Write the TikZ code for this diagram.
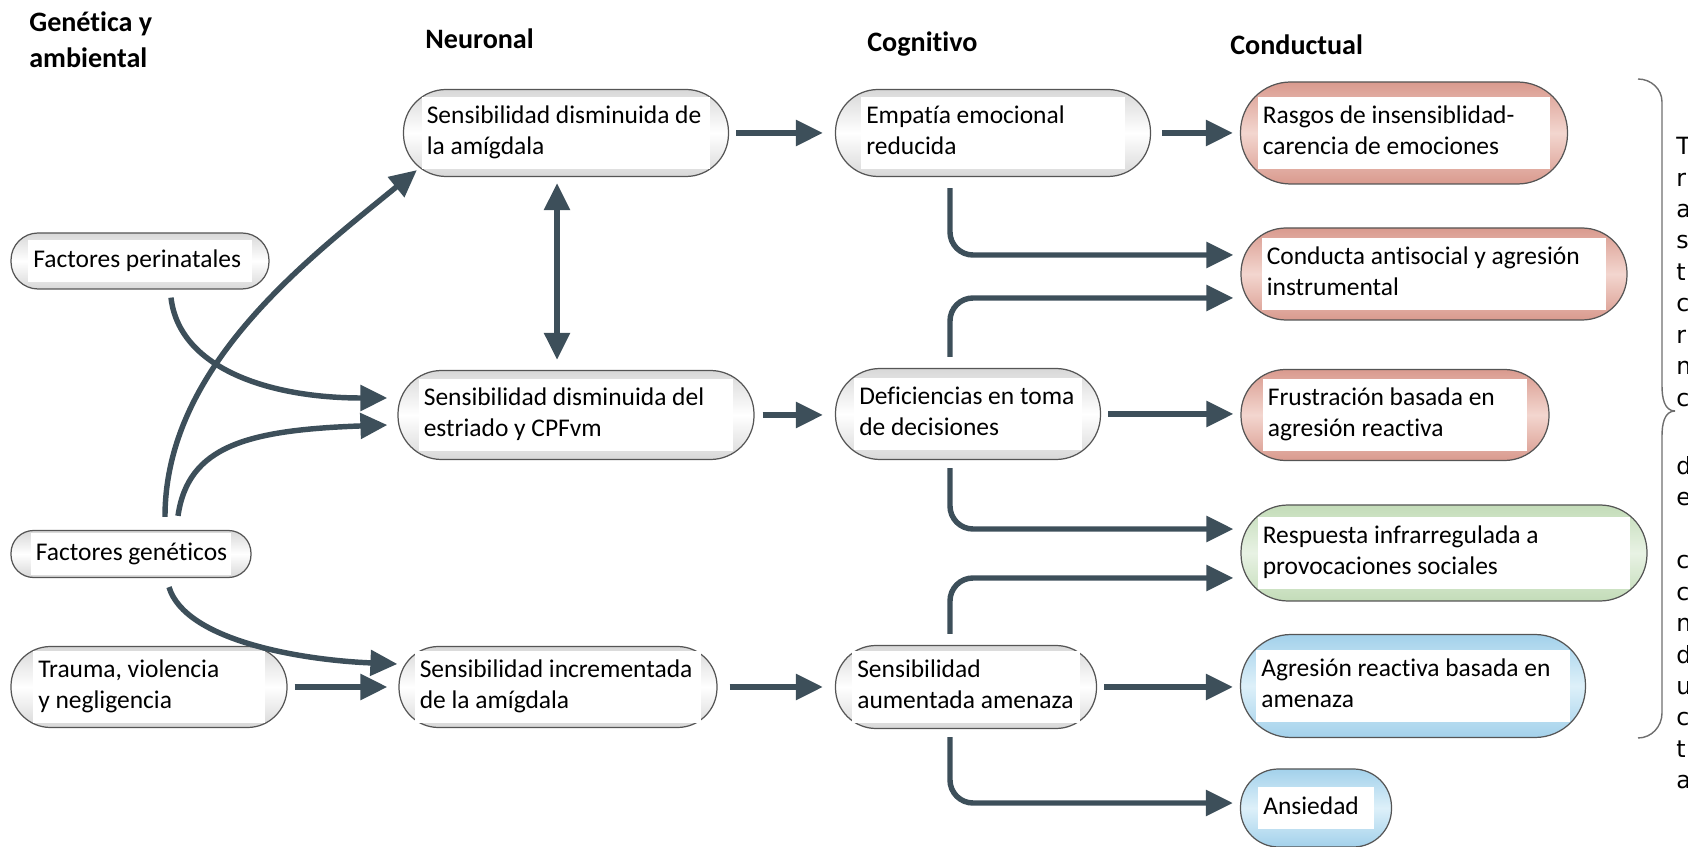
\documentclass[tikz,border=0pt]{standalone}
\usepackage{fontspec}
\setmainfont{Carlito}[Ligatures=NoCommon]
\newfontfamily\sidefont{DejaVu Sans}
\usetikzlibrary{arrows.meta}
\definecolor{arrowc}{HTML}{3D4F5A}
\definecolor{pillline}{HTML}{555555}
\definecolor{pillgray}{HTML}{D8D8D8}
\definecolor{pinkedge}{HTML}{D99A8E}
\definecolor{pinkmid}{HTML}{F3D6CF}
\definecolor{greenedge}{HTML}{C3DCB8}
\definecolor{greenmid}{HTML}{E8F2E4}
\definecolor{blueedge}{HTML}{A3D1EB}
\definecolor{bluemid}{HTML}{DDF0F9}
\definecolor{bracec}{HTML}{6E6E6E}
\setlength{\fboxsep}{3pt}
\newcommand{\tbox}[2]{\colorbox{white}{\makebox[\dimexpr#1-2\fboxsep\relax][l]{\begin{tabular}{@{}l@{}}#2\end{tabular}}}}
\tikzset{
    >={Triangle[length=0.54cm,width=0.5cm]},
    pill/.style 2 args={draw=pillline, line width=0.7pt, inner sep=0pt, minimum width=#1*0.02cm, minimum height=#2*0.02cm, rounded corners=#2*0.01cm-0.5pt, top color=pillgray, bottom color=pillgray, middle color=white, font=\fontsize{14.5}{17.6}\selectfont},
    pink/.style={top color=pinkedge, bottom color=pinkedge, middle color=pinkmid},
    green/.style={top color=greenedge, bottom color=greenedge, middle color=greenmid},
    blue/.style={top color=blueedge, bottom color=blueedge, middle color=bluemid},
    arr/.style={draw=arrowc, line width=3.1pt, ->, shorten <=0.14cm, shorten >=0.14cm},
    elbow/.style={arr, rounded corners=0.46cm},
    head/.style={font=\fontsize{16}{21}\selectfont\bfseries, align=left, inner sep=0pt},
    side/.style={font=\sidefont\fontsize{13.5}{17.9}\selectfont, align=left, anchor=north west, inner sep=0pt}
}
\begin{document}
\begin{tikzpicture}[x=0.02cm,y=0.02cm]
        \useasboundingbox (0,0) rectangle (1688,-847);
        \node[head,anchor=north west] (hgen) at (29,-11) {Genética y\\ambiental};
        \node[head,anchor=base west] (hneu) at (425,-49) {Neuronal};
        \node[head,anchor=base west] (hcog) at (867,-52) {Cognitivo};
        \node[head,anchor=base west] (hcon) at (1230,-55) {Conductual};
        \node[pill={325}{87}] (amygdis) at (566,-133) {\tbox{5.78cm}{Sensibilidad disminuida de\\la amígdala}};
        \node[pill={315}{87}] (empatia) at (993,-133) {\tbox{5.28cm}{Empatía emocional\\reducida}};
        \node[pill={327}{102},pink] (rasgos) at (1404,-133) {\tbox{5.86cm}{Rasgos de insensiblidad-\\carencia de emociones}};
        \node[pill={258}{56}] (perinat) at (140,-261) {\tbox{4.48cm}{Factores perinatales}};
        \node[pill={386}{92},pink] (conducta) at (1434,-274) {\tbox{6.9cm}{Conducta antisocial y agresión\\instrumental}};
        \node[pill={356}{89}] (estriado) at (576,-415) {\tbox{6.3cm}{Sensibilidad disminuida del\\estriado y CPFvm}};
        \node[pill={265}{91}] (decision) at (968,-414) {\tbox{4.56cm}{Deficiencias en toma\\de decisiones}};
        \node[pill={308}{91},pink] (frustra) at (1395,-415) {\tbox{5.3cm}{Frustración basada en\\agresión reactiva}};
        \node[pill={240}{47}] (genetic) at (131,-554) {\tbox{4.02cm}{Factores genéticos}};
        \node[pill={406}{96},green] (respuesta) at (1444,-553) {\tbox{7.46cm}{Respuesta infrarregulada a\\provocaciones sociales}};
        \node[pill={276}{81}] (trauma) at (149,-687) {\tbox{4.64cm}{Trauma, violencia\\y negligencia}};
        \node[pill={318}{81}] (amyginc) at (558,-687) {\tbox{5.74cm}{Sensibilidad incrementada\\de la amígdala}};
        \node[pill={261}{83}] (amenaza) at (966,-687) {\tbox{4.56cm}{Sensibilidad\\aumentada amenaza}};
        \node[pill={345}{103},blue] (agresion) at (1413,-686) {\tbox{6.28cm}{Agresión reactiva basada en\\amenaza}};
        \node[pill={151}{78},blue] (ansiedad) at (1316,-808) {\tbox{2.32cm}{Ansiedad}};
        \coordinate (spine) at (950,0);
        \coordinate (dbl) at ([xshift=-0.18cm]amygdis.south);
        \draw[arr,shorten >=0.24cm] (amygdis) -- (empatia);
        \draw[arr,shorten <=0.22cm] (empatia) -- (rasgos);
        \draw[arr,shorten <=0.16cm,shorten >=0.24cm] (estriado.east) -- (estriado.east -| decision.west);
        \draw[arr] (decision.east) -- (decision.east -| frustra.west);
        \draw[arr,shorten <=0.24cm,shorten >=0.24cm] (amyginc) -- (amenaza);
        \draw[arr] (amenaza.east) -- (amenaza.east -| agresion.west);
        \draw[arr,shorten >=0.22cm] (trauma) -- (amyginc);
        \draw[arr,<->,shorten <=0.12cm,shorten >=0.2cm] (dbl) -- (dbl |- estriado.north);
        \draw[elbow,shorten <=0.22cm] (empatia.south -| spine) |- ([yshift=0.38cm]conducta.west);
        \draw[elbow,shorten <=0.22cm] (decision.north -| spine) |- ([yshift=-0.48cm]conducta.west);
        \draw[elbow,shorten <=0.16cm] (decision.south -| spine) |- ([yshift=0.48cm]respuesta.west);
        \draw[elbow,shorten <=0.22cm] (amenaza.north -| spine) |- ([yshift=-0.5cm]respuesta.west);
        \draw[elbow,shorten <=0.16cm] (amenaza.south -| spine) |- ([yshift=0.1cm]ansiedad.west);
        \draw[arr,shorten <=0pt,shorten >=0pt] ([shift={(31,-8)}]perinat.south) .. controls +(8,-70) and +(-120,0) .. ([shift={(-10,17)}]estriado.west);
        \draw[arr,shorten <=0pt,shorten >=0pt] ([shift={(47,14)}]genetic.north) .. controls +(10,70) and +(-140,-5) .. ([shift={(-10,-10)}]estriado.west);
        \draw[arr,shorten <=0pt,shorten >=0pt] ([shift={(34,13)}]genetic.north) .. controls +(0,150) and +(-110,-90) .. ([shift={(14,7)}]amygdis.south west);
        \draw[arr,shorten <=0pt,shorten >=0pt] ([shift={(38,-9)}]genetic.south) .. controls +(16,-53) and +(-98,4) .. ([shift={(-1,23)}]amyginc.west);
        \draw[bracec,line width=0.8pt] (1638,-79) to[out=0,in=90] (1662,-102) -- (1662,-386) to[out=-90,in=180] (1675,-411);
        \draw[bracec,line width=0.8pt] (1675,-411) to[out=180,in=90] (1662,-436) -- (1662,-713) to[out=-90,in=0] (1638,-738);
        \node[side] (sideup) at (1676,-137) {T\\r\\a\\s\\t\\c\\r\\n\\c};
        \node[side] (sidelow) at (1676,-456) {d\\e\\[17.9pt]c\\c\\n\\d\\u\\c\\t\\a};
    \end{tikzpicture}
\end{document}
